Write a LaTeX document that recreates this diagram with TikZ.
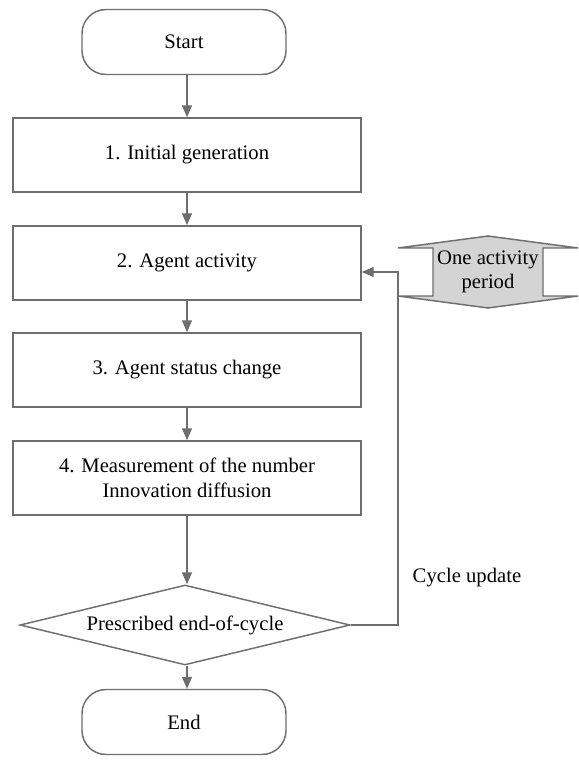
\documentclass[tikz,border=0pt]{standalone}
\usepackage{fontspec}
\setmainfont{Liberation Serif}
\usetikzlibrary{arrows.meta,shapes.geometric}
\definecolor{linegray}{HTML}{6E6E6E}
\definecolor{fillgray}{HTML}{D4D4D4}

\begin{document}
\begin{tikzpicture}[x=0.75pt,y=-0.75pt,>={Triangle[length=9pt,width=7.5pt]},
  every node/.style={font=\rmfamily\fontsize{15.5}{18.5}\selectfont},
  flow/.style={draw=linegray, line width=1.1pt},
  box/.style={flow, rectangle, minimum width=261pt, minimum height=55.5pt, align=center},
  terminal/.style={flow, rectangle, rounded corners=18pt, minimum width=153pt, minimum height=48.75pt},
  decision/.style={flow, diamond, aspect=4.1, inner sep=0pt, minimum width=247.5pt, minimum height=60pt}]
\useasboundingbox (0,0) rectangle (578,773);
% main column
\node[terminal] (start) at (184,42) {Start};
\node[box] (init) at (187,155) {1. Initial generation};
\node[box] (activity) at (187,263) {2. Agent activity};
\node[box] (status) at (187,370) {3. Agent status change};
\node[box] (measure) at (187,478) {4. Measurement of the number\\Innovation diffusion};
\node[decision] (check) at (185,625) {Prescribed end-of-cycle};
\node[terminal] (finish) at (184,722) {End};
\draw[flow,->] (start.south -| init) -- (init);
\draw[flow,->] (init) -- (activity);
\draw[flow,->] (activity) -- (status);
\draw[flow,->] (status) -- (measure);
\draw[flow,->] (measure.south) -- (check.north -| measure.south);
\draw[flow,->] (check.south -| measure.south) -- (finish.north -| measure.south);
% loop back
\coordinate (loop) at (398,272);
\draw[flow,->] (check.east) -| (loop) -- (activity.east |- loop);
\node[anchor=west] (update) at (408,578) {Cycle update};
% period marker
\draw[flow, fill=fillgray] (398,248) -- (488,236) -- (578,248) -- (543,248) -- (543,296)
  -- (578,296) -- (488,308) -- (398,296) -- (433,296) -- (433,248) -- cycle;
\node[align=center, inner sep=1pt] (period) at (488,272) {One activity\\period};
\end{tikzpicture}
\end{document}
